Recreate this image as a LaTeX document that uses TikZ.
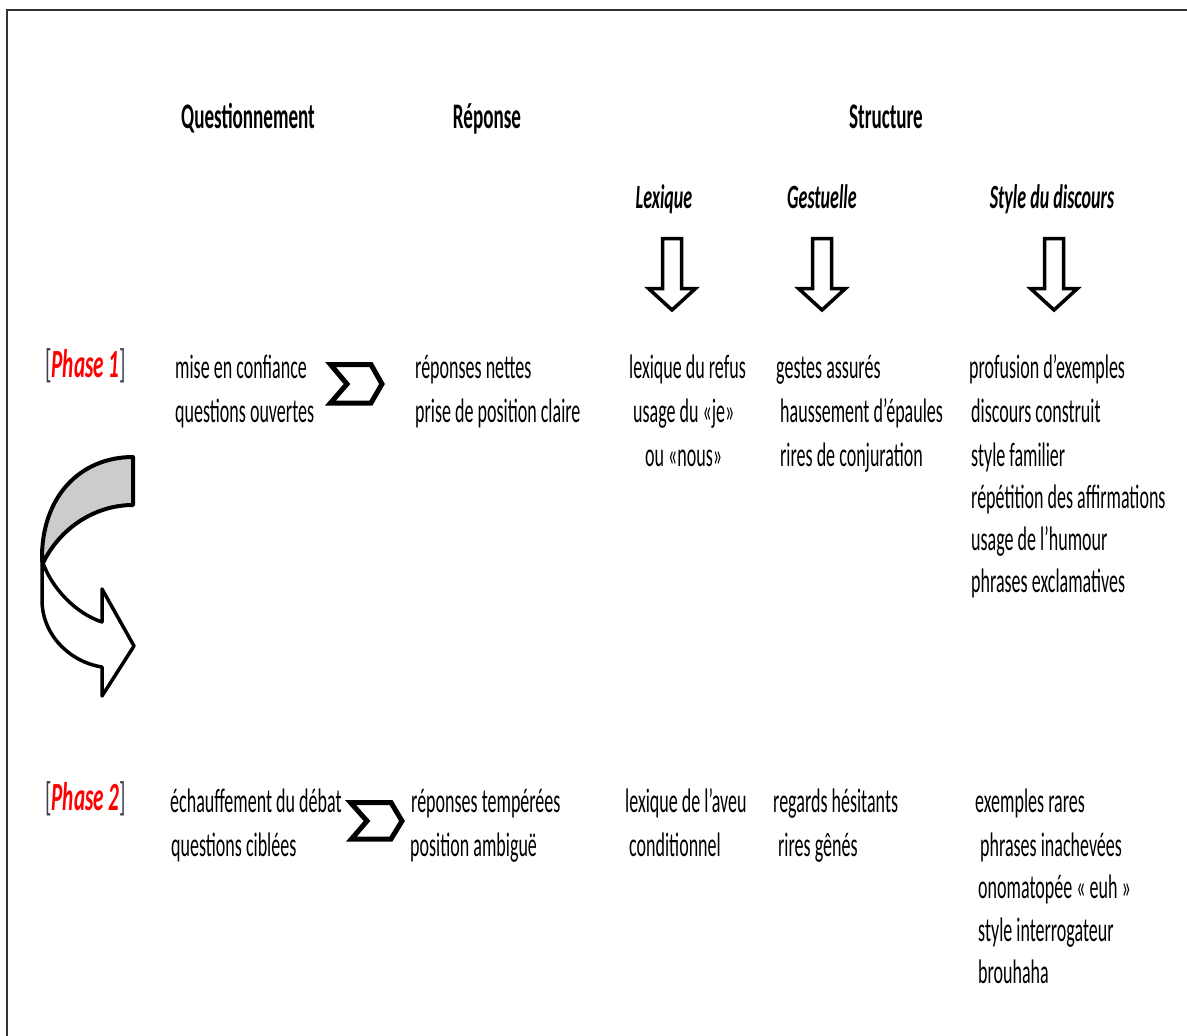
\documentclass[tikz,border=0pt]{standalone}
\usepackage{fontspec}
\setmainfont{Carlito}[FakeStretch=0.53]
\definecolor{brk}{RGB}{60,60,85}
\definecolor{phred}{RGB}{255,0,0}
\definecolor{frame}{RGB}{50,50,50}
\begin{document}
\begin{tikzpicture}[x=1pt,y=-1pt,
  txt/.style={inner sep=0pt,anchor=base west,font=\fontsize{34}{40}\selectfont},
  hd/.style={inner sep=0pt,anchor=base,font=\fontsize{36}{42}\selectfont\bfseries},
  sub/.style={inner sep=0pt,anchor=base,font=\fontsize{34}{40}\selectfont\bfseries\itshape},
  phase/.style={inner sep=0pt,anchor=base west,font=\fontsize{40}{46}\selectfont,text=brk},
  shp/.style={draw=black,line width=3.5pt,line join=miter},
  chev/.style={draw=black,line width=5pt,line join=miter,fill=white}]
\useasboundingbox (0,0) rectangle (1187,1036);
% frame
\draw[frame,line width=2.5pt] (7,1036) -- (7,10) -- (1187,10);
% headers
\node[hd] (hq) at (248,128) {Questionnement};
\node[hd] (hr) at (487,128) {Réponse};
\node[hd] (hs) at (886,128) {Structure};
\node[sub] (sl) at (664,208) {Lexique};
\node[sub] (sg) at (822,208) {Gestuelle};
\node[sub] (ss) at (1052,208) {Style du discours};
% down arrows
\foreach \cx/\nm in {672/al,822/ag,1054/as}{
  \draw[shp,fill=white] (\cx-9.5,238.5) -- (\cx+9.5,238.5) -- (\cx+9.5,288.5) -- (\cx+23.5,288.5)
     -- (\cx,310) -- (\cx-23.5,288.5) -- (\cx-9.5,288.5) -- cycle;
}
% phase labels
\node[phase] (p1) at (45,377) {[\textcolor{phred}{\bfseries\itshape Phase 1}]};
\node[phase] (p2) at (45,810) {[\textcolor{phred}{\bfseries\itshape Phase 2}]};
% phase 1 texts
\node[txt] (q1a) at (175,378) {mise en confiance};
\node[txt] (q1b) at (175,422) {questions ouvertes};
\node[txt] (r1a) at (415,378) {réponses nettes};
\node[txt] (r1b) at (415,422) {prise de position claire};
\node[txt] (l1a) at (629,378) {lexique du refus};
\node[txt] (l1b) at (633,422) {usage du «je»};
\node[txt] (l1c) at (645,466) {ou «nous»};
\node[txt] (g1a) at (776,378) {gestes assurés};
\node[txt] (g1b) at (780,422) {haussement d’épaules};
\node[txt] (g1c) at (780,466) {rires de conjuration};
\node[txt] (s1a) at (969,378) {profusion d’exemples};
\node[txt] (s1b) at (971,422) {discours construit};
\node[txt] (s1c) at (971,466) {style familier};
\node[txt] (s1d) at (971,508) {répétition des affirmations};
\node[txt] (s1e) at (971,550) {usage de l’humour};
\node[txt] (s1f) at (971,592) {phrases exclamatives};
% phase 2 texts
\node[txt] (q2a) at (170,812) {échauffement du débat};
\node[txt] (q2b) at (171,856) {questions ciblées};
\node[txt] (r2a) at (411,812) {réponses tempérées};
\node[txt] (r2b) at (410,856) {position ambiguë};
\node[txt] (l2a) at (625,812) {lexique de l’aveu};
\node[txt] (l2b) at (629,856) {conditionnel};
\node[txt] (g2a) at (773,812) {regards hésitants};
\node[txt] (g2b) at (778,856) {rires gênés};
\node[txt] (s2a) at (975,812) {exemples rares};
\node[txt] (s2b) at (980,856) {phrases inachevées};
\node[txt] (s2c) at (978,898) {onomatopée « euh »};
\node[txt] (s2d) at (978,941) {style interrogateur};
\node[txt] (s2e) at (978,983) {brouhaha};
% chevrons
\draw[chev] (330.5,364.5) -- (371,364.5) -- (382,384) -- (371,403) -- (330.5,403) -- (347,384) -- cycle;
\draw[chev] (350.5,802.5) -- (391,802.5) -- (402,821) -- (391,839) -- (351.5,839) -- (367,821) -- cycle;
% curved arrow
\draw[shp,fill=white,line join=round]
  (43,563) .. controls (52,588) and (75,613) .. (102,622)
  -- (102,589) -- (134,646) -- (102,696) -- (102,667)
  .. controls (70,662) and (42,635) .. (42,600) -- (42,560) -- cycle;
\draw[shp,fill=black!20,line join=round,line width=4pt]
  (133,457) .. controls (80,457) and (41,497) .. (42,560)
  -- (43,563) .. controls (60,528) and (95,505) .. (133,505) -- cycle;
\end{tikzpicture}
\end{document}
